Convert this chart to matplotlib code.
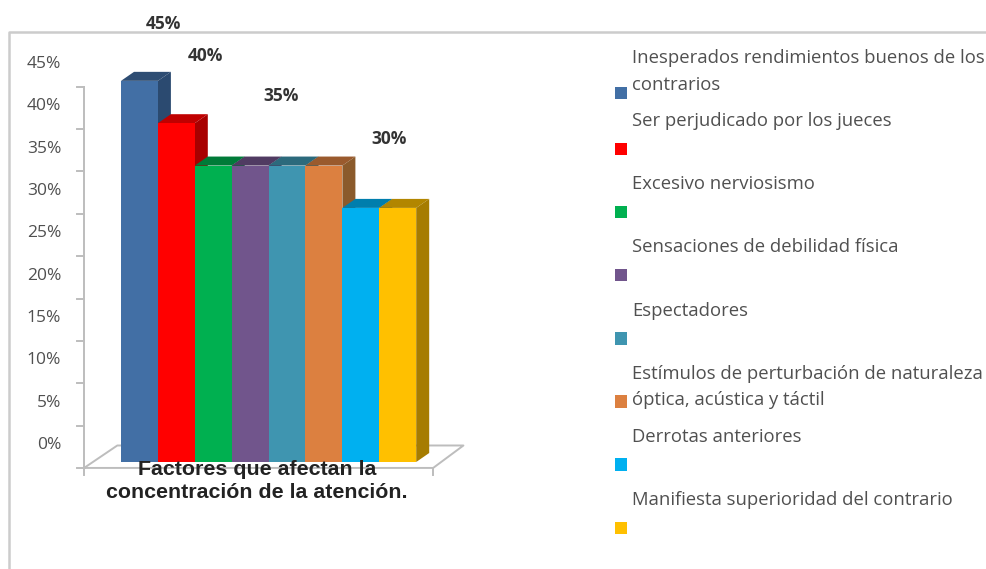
import numpy as np
import matplotlib
matplotlib.use("Agg")
import matplotlib.pyplot as plt
from matplotlib.legend_handler import HandlerPatch
from matplotlib.patches import Patch, Polygon, Rectangle

# Data
factores = [
    "Inesperados rendimientos buenos de los\ncontrarios",
    "Ser perjudicado por los jueces\n ",
    "Excesivo nerviosismo\n ",
    "Sensaciones de debilidad física\n ",
    "Espectadores\n ",
    "Estímulos de perturbación de naturaleza\nóptica, acústica y táctil",
    "Derrotas anteriores\n ",
    "Manifiesta superioridad del contrario\n ",
]
valores = [45, 40, 35, 35, 35, 35, 30, 30]
ticks = [0, 5, 10, 15, 20, 25, 30, 35, 40, 45]
etiquetas_valor = [45, 40, 35, 30]
titulo = "Factores que afectan la\nconcentración de la atención."

# Colours: front, top, side
frente = ["#426fa5", "#ff0000", "#00b050", "#71558c", "#3f95b0", "#dc8040", "#00b0f0", "#ffc000"]
arriba = ["#2e4d73", "#c00000", "#007b38", "#503b62", "#2c6a7c", "#9a5a2d", "#007ead", "#b28600"]
lado = ["#2b4a70", "#a80000", "#006f33", "#4c3860", "#2a6476", "#8b5a2b", "#00709a", "#a67c00"]

GRIS = "#bdbdbd"
TEXTO = "#505050"
ANCHO, ALTO = 987, 569

fig = plt.figure(figsize=(ANCHO / 100, ALTO / 100), dpi=100)
ax = fig.add_axes([0, 0, 1, 1])

# x unit = one bar, y unit = one percent
px_x, px_y = 36.9, 8.47
ax.set_xlim(-121 / px_x, (ANCHO - 121) / px_x)
ax.set_ylim(-(ALTO - 462) / px_y, 462 / px_y)
ax.axis("off")

dx, dy = 13 / px_x, 9 / px_y  # depth of the fake 3D
piso = -0.7  # front floor level of the axis
x = np.arange(len(valores))

# chart border
ax.plot([-3.04, -3.04, 23.5], [-12.63, 50.8, 50.8], color="#cccccc", lw=1.8, clip_on=False)

# floor and axis
fx = [-1.0, -0.1, 9.28, 8.46, -1.0]
fy = [piso, 1.95, 1.95, piso, piso]
ax.plot(fx, fy, color=GRIS, lw=1.4, zorder=1)
ax.plot([-1.0, -1.0], [piso, 45 + piso], color=GRIS, lw=1.4, zorder=1)
ax.plot([-1.0, -1.0], [piso, piso - 0.8], color=GRIS, lw=1.4, zorder=1)
ax.plot([8.46, 8.46], [piso, piso - 0.8], color=GRIS, lw=1.4, zorder=1)
for t in ticks:
    ax.plot([-1.19, -1.0], [t + piso, t + piso], color=GRIS, lw=1.4, zorder=1)
    ax.text(-1.62, t + piso + 2.7, f"{t}%", ha="right", va="center",
            fontsize=12.5, family="Open Sans", color=TEXTO)

# bars, left to right so each one covers the side of the previous
for i, v in enumerate(valores):
    ax.add_patch(Polygon([(i, v), (i + 1, v), (i + 1 + dx, v + dy), (i + dx, v + dy)],
                         facecolor=arriba[i], edgecolor="none", zorder=2 + i))
    ax.add_patch(Polygon([(i + 1, 0), (i + 1 + dx, dy), (i + 1 + dx, v + dy), (i + 1, v)],
                         facecolor=lado[i], edgecolor="none", zorder=2 + i))
    ax.bar(x[i], v, width=1, align="edge", color=frente[i], zorder=2 + i)

# floating value labels
pos_etiquetas = [1.14, 2.30, 4.34, 7.26]
alt_etiquetas = [51.7, 47.9, 43.2, 38.1]
for xe, ye, e in zip(pos_etiquetas, alt_etiquetas, etiquetas_valor):
    ax.text(xe, ye, f"{e}%", ha="center", va="center",
            fontsize=12.5, fontweight="bold", family="Open Sans", color="#333333", zorder=20)

ax.text(3.69, -2.2, titulo, ha="center", va="center", fontsize=15.4, fontweight="bold",
        family="Liberation Sans", color="#222222", linespacing=1.25, zorder=20)

# legend, markers sit lower than the text they belong to
handles = [Patch(facecolor=c, edgecolor="none") for c in frente]


def marcador(legend, orig_handle, xdescent, ydescent, width, height, fontsize):
    baja = 15 if orig_handle is handles[0] else 10
    return Rectangle((-xdescent, -ydescent - baja), width, height)


leg = ax.legend(handles, factores, loc="upper left", bbox_to_anchor=(615 / ANCHO, 1 - 49 / ALTO),
                bbox_transform=fig.transFigure, frameon=False, borderpad=0, borderaxespad=0,
                handlelength=0.65, handleheight=0.65, handletextpad=0.27, labelspacing=1.0,
                handler_map={Patch: HandlerPatch(patch_func=marcador)},
                prop={"family": "Open Sans", "size": 13.3})
for t in leg.get_texts():
    t.set_color(TEXTO)
    t.set_linespacing(1.62)

fig.savefig("out.png", dpi=100)
